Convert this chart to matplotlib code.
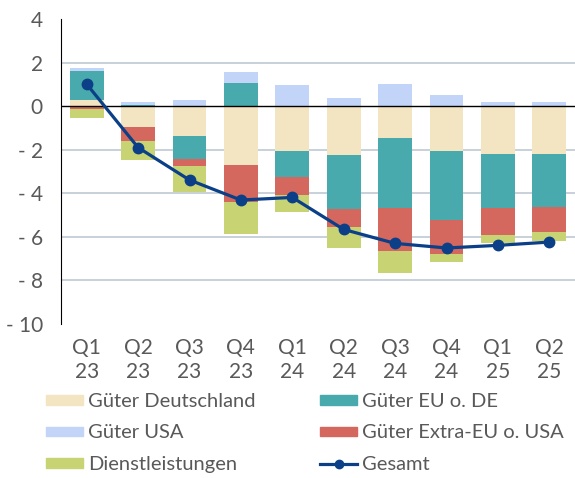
import numpy as np
from matplotlib import pyplot as plt
from matplotlib.lines import Line2D
from matplotlib.patches import Patch

quarters = ['Q1\n23', 'Q2\n23', 'Q3\n23', 'Q4\n23', 'Q1\n24', 'Q2\n24', 'Q3\n24', 'Q4\n24', 'Q1\n25', 'Q2\n25']
gueter_de = [0.29, -0.98, -1.36, -2.69, -2.04, -2.25, -1.47, -2.08, -2.20, -2.19]
gueter_eu = [1.33, 0.05, -1.07, 1.07, -1.20, -2.47, -3.21, -3.15, -2.48, -2.44]
gueter_usa = [0.15, 0.13, 0.29, 0.49, 0.95, 0.39, 1.01, 0.50, 0.17, 0.17]
gueter_extra = [-0.12, -0.61, -0.31, -1.71, -0.83, -0.85, -1.99, -1.55, -1.22, -1.15]
dienst = [-0.42, -0.87, -1.18, -1.49, -0.81, -0.93, -0.99, -0.38, -0.38, -0.43]
gesamt = [1.01, -1.90, -3.39, -4.31, -4.19, -5.66, -6.30, -6.51, -6.39, -6.24]

series = [
  ('Güter Deutschland', gueter_de, '#F3E5C2'),
  ('Güter EU o. DE', gueter_eu, '#49AAAE'),
  ('Güter USA', gueter_usa, '#C2D4F7'),
  ('Güter Extra-EU o. USA', gueter_extra, '#D4685F'),
  ('Dienstleistungen', dienst, '#C8D374'),
]

plt.rcParams['font.family'] = ['Lato', 'DejaVu Sans']
grey = '#595959'

fig = plt.figure(figsize=(5.75, 4.78), dpi=100)
ax = fig.add_axes([61/575, 154/478, 514/575, 305/478])

x = np.arange(len(quarters))
pos_base = np.zeros(len(x))
neg_base = np.zeros(len(x))
for name, vals, col in series:
  vals = np.array(vals)
  bottom = np.where(vals >= 0, pos_base, neg_base)
  ax.bar(x, vals, width=0.66, bottom=bottom, color=col, zorder=2)
  pos_base += np.where(vals >= 0, vals, 0)
  neg_base += np.where(vals < 0, vals, 0)

ax.plot(x, gesamt, color='#0B3F88', lw=2.3, marker='o', ms=7.5, zorder=4)

ax.set_xlim(-0.5, 9.5)
ax.set_ylim(-10, 4)
ticks = np.arange(-10, 5, 2)
ax.set_yticks(ticks)
ax.set_yticklabels([('- %d' % -t) if t < 0 else str(t) for t in ticks])
for t in [2, -2, -4, -6, -8]:
  ax.axhline(t, color='#BFCAD3', lw=1.2, zorder=1)
ax.axhline(0, color='black', lw=1, zorder=3)
ax.set_xticks(x)
ax.set_xticklabels(quarters, linespacing=1.25)
ax.tick_params(length=0, labelsize=15, colors=grey)
ax.tick_params(axis='y', pad=13)
ax.tick_params(axis='x', pad=10)
for s in ['top', 'right', 'bottom']:
  ax.spines[s].set_visible(False)
ax.spines['left'].set_color('black')

handles = [Patch(color=c) for _, _, c in series]
labels = [n for n, _, _ in series]
line_handle = Line2D([], [], color='#0B3F88', lw=2.3, marker='o', ms=6)
order = [0, 2, 4, 1, 3]
h = [handles[i] for i in order] + [line_handle]
l = [labels[i] for i in order] + ['Gesamt']
fig.legend(h, l, ncol=2, loc='upper left', bbox_to_anchor=(46/575, 1 - 393/478),
           frameon=False, fontsize=14.5, labelcolor=grey, handlelength=1.84,
           handleheight=0.35, handletextpad=0.25, columnspacing=3.2, labelspacing=0.72,
           borderpad=0, borderaxespad=0)

fig.savefig('out.png', dpi=100)
